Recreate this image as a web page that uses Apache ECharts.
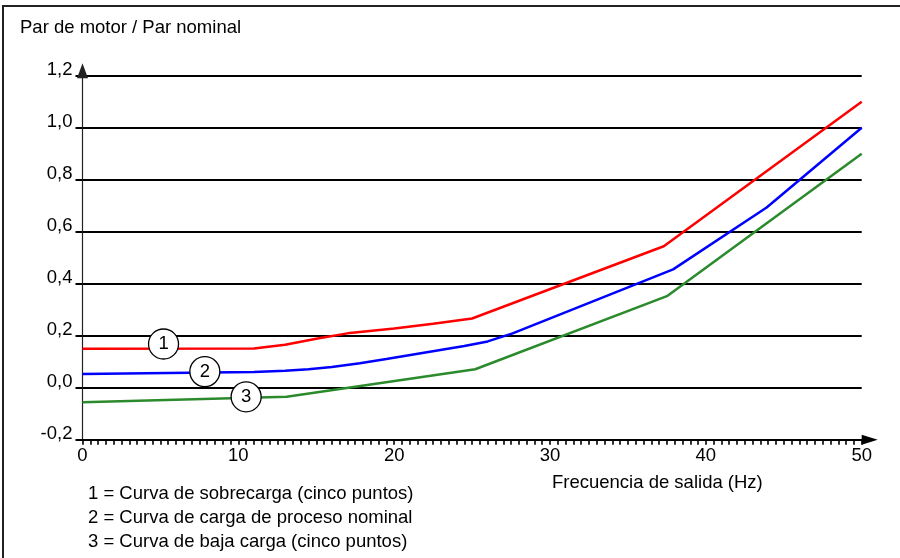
<!DOCTYPE html>
<html>
<head>
<meta charset="utf-8">
<script src="https://cdn.jsdelivr.net/npm/echarts@6/dist/echarts.min.js"></script>
<style>
html,body{margin:0;padding:0;background:#fff;}
#chart{width:900px;height:558px;}
</style>
</head>
<body>
<div id="chart"></div>
<script>
// ---- data (Hz, Par de motor / Par nominal) ----
var curveOverload = [[0,0.15],[11,0.151],[13,0.165],[15,0.188],[17,0.209],[20,0.228],[22.5,0.246],[25,0.266],[37.3,0.544],[50,1.10]];
var curveNominal = [[0,0.053],[11,0.06],[13,0.065],[14.5,0.071],[16,0.08],[17.8,0.094],[19.5,0.11],[22,0.135],[24.5,0.16],[26,0.178],[27.6,0.209],[37.9,0.455],[43.9,0.693],[50,1.0]];
var curveUnderload = [[0,-0.056],[13.1,-0.035],[25.2,0.071],[37.5,0.352],[50,0.90]];
var markerLabels = ['1','2','3'];
var markerPositions = [[5.2,0.168],[7.85,0.062],[10.5,-0.035]];
var legendLines = ['1 = Curva de sobrecarga (cinco puntos)','2 = Curva de carga de proceso nominal','3 = Curva de baja carga (cinco puntos)'];
var yAxisTitle = 'Par de motor / Par nominal';
var xAxisTitle = 'Frecuencia de salida (Hz)';
var xMin = 0, xMax = 50, xStep = 10;
var yMin = -0.2, yMax = 1.2, yStep = 0.2;

var FONT = 'Liberation Sans, Arial, sans-serif';
var FS = 18.5;

var chart = echarts.init(document.getElementById('chart'), null, {renderer:'canvas'});

var markerData = markerLabels.map(function(l,i){ return {name:l, value:markerPositions[i]}; });

var graphics = [
  {type:'polyline', shape:{points:[[3,558],[3,6],[900,6]]}, style:{stroke:'#222', lineWidth:2, fill:null}, silent:true},
  {type:'text', left:20, top:18, style:{text:yAxisTitle, font: FS+'px '+FONT, fill:'#000'}},
  {type:'text', left:552, top:473, style:{text:xAxisTitle, font: FS+'px '+FONT, fill:'#000'}}
];
legendLines.forEach(function(t,i){
  graphics.push({type:'text', left:88, top:484+24*i, style:{text:t, font: FS+'px '+FONT, fill:'#000'}});
});

chart.setOption({
  animation:false,
  backgroundColor:'#fff',
  grid:{left:82.5, right:38.3, top:75.7, bottom:118.3, containLabel:false},
  xAxis:{
    type:'value', min:xMin, max:xMax, interval:xStep,
    axisLine:{onZero:false, lineStyle:{color:'#000', width:2}, symbol:['none','triangle'], symbolSize:[10,16], symbolOffset:[0,8]},
    axisTick:{show:true, length:5, lineStyle:{color:'#000', width:1.6}},
    minorTick:{show:true, splitNumber:20, length:5, lineStyle:{color:'#000', width:1.6}},
    splitLine:{show:false},
    axisLabel:{color:'#000', fontSize:FS, fontFamily:FONT, margin:7}
  },
  yAxis:{
    type:'value', min:yMin, max:yMax, interval:yStep,
    axisLine:{show:true, onZero:false, lineStyle:{color:'#222', width:1.2}, symbol:['none','triangle'], symbolSize:[11,15], symbolOffset:[0,5]},
    axisTick:{show:true, length:7, lineStyle:{color:'#000', width:2}},
    splitLine:{show:true, lineStyle:{color:'#000', width:2}},
    axisLabel:{color:'#000', fontSize:FS, fontFamily:FONT, margin:10, verticalAlign:'bottom', lineHeight:12,
      formatter:function(v){ return (Math.round(v*10)/10).toFixed(1).replace('.',','); }}
  },
  series:[
    {type:'line', data:curveOverload, showSymbol:false, lineStyle:{color:'#ff0000', width:2.5}, z:3},
    {type:'line', data:curveNominal, showSymbol:false, lineStyle:{color:'#0000ff', width:2.5}, z:3},
    {type:'line', data:curveUnderload, showSymbol:false, lineStyle:{color:'#2b8a2b', width:2.5}, z:3},
    {type:'scatter', data:markerData, symbol:'circle', symbolSize:30, z:5,
      itemStyle:{color:'#fff', borderColor:'#000', borderWidth:1.3, opacity:1},
      label:{show:true, position:'inside', formatter:'{b}', color:'#000', fontSize:FS, fontFamily:FONT}}
  ],
  graphic:graphics
});
</script>
</body>
</html>
